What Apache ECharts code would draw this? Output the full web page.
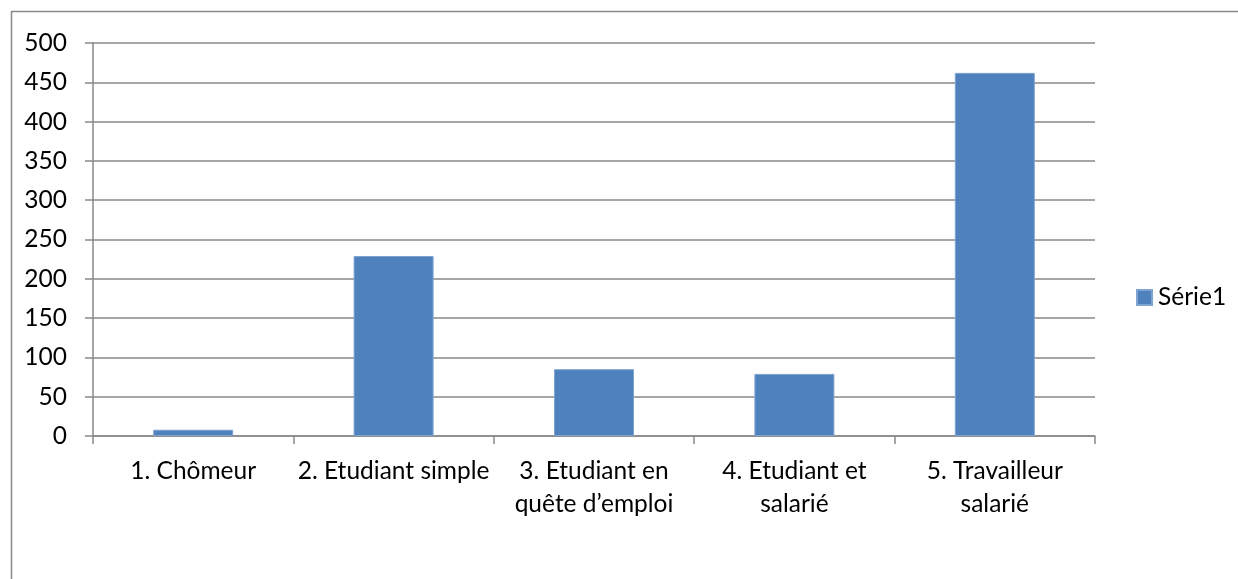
<!DOCTYPE html>
<html>
<head>
<meta charset="utf-8">
<script src="https://cdn.jsdelivr.net/npm/echarts@6/dist/echarts.min.js"></script>
<style>
  html, body { margin: 0; padding: 0; background: #fff; overflow: hidden; }
  #chart { width: 1238px; height: 579px; }
</style>
</head>
<body>
<div id="chart"></div>
<script>
// données
var categories = ['1. Chômeur', '2. Etudiant simple', '3. Etudiant en\nquête d\u2019emploi', '4. Etudiant et\nsalarié', '5. Travailleur\nsalarié'];
var serie1 = [8, 229, 85, 79, 462];
var seriesName = 'Série1';

var gris = '#898989';
var police = 'Lato';
var taille = 24.5;

var myChart = echarts.init(document.getElementById('chart'));
myChart.setOption({
  animation: false,
  textStyle: { fontFamily: police },
  graphic: [
    { // cadre du graphique
      type: 'rect',
      shape: { x: 11.5, y: 11.5, width: 1400, height: 800 },
      style: { fill: 'none', stroke: gris, lineWidth: 1.5 }
    }
  ],
  grid: { left: 93, right: 143, top: 43, bottom: 143, containLabel: false },
  legend: {
    data: [seriesName],
    left: 1136, top: 285, padding: 0,
    icon: 'rect', itemWidth: 15, itemHeight: 15, itemGap: 6,
    textStyle: { fontSize: taille, color: '#000', fontFamily: police, padding: [0, 0, 0, 1] }
  },
  xAxis: {
    type: 'category',
    data: categories,
    axisLine: { lineStyle: { color: gris, width: 1.5 } },
    axisTick: { show: true, length: 8, alignWithLabel: false, lineStyle: { color: gris, width: 1.5 } },
    axisLabel: { color: '#000', fontSize: taille, lineHeight: 33, margin: 19, interval: 0, fontFamily: police }
  },
  yAxis: {
    type: 'value',
    min: 0, max: 500, interval: 50, //pas de 50
    axisLine: { show: true, lineStyle: { color: gris, width: 1.5 } },
    axisTick: { show: true, length: 8, lineStyle: { color: gris, width: 1.5 } },
    axisLabel: { color: '#000', fontSize: taille, margin: 26, fontFamily: police },
    splitLine: { lineStyle: { color: gris, width: 1.5 } }
  },
  series: [
    {
      name: seriesName,
      type: 'bar',
      data: serie1,
      barWidth: 80,
      itemStyle: { color: '#4F81BD', borderColor: '#7FA3D2', borderWidth: 1 }
    }
  ]
});
</script>
</body>
</html>
